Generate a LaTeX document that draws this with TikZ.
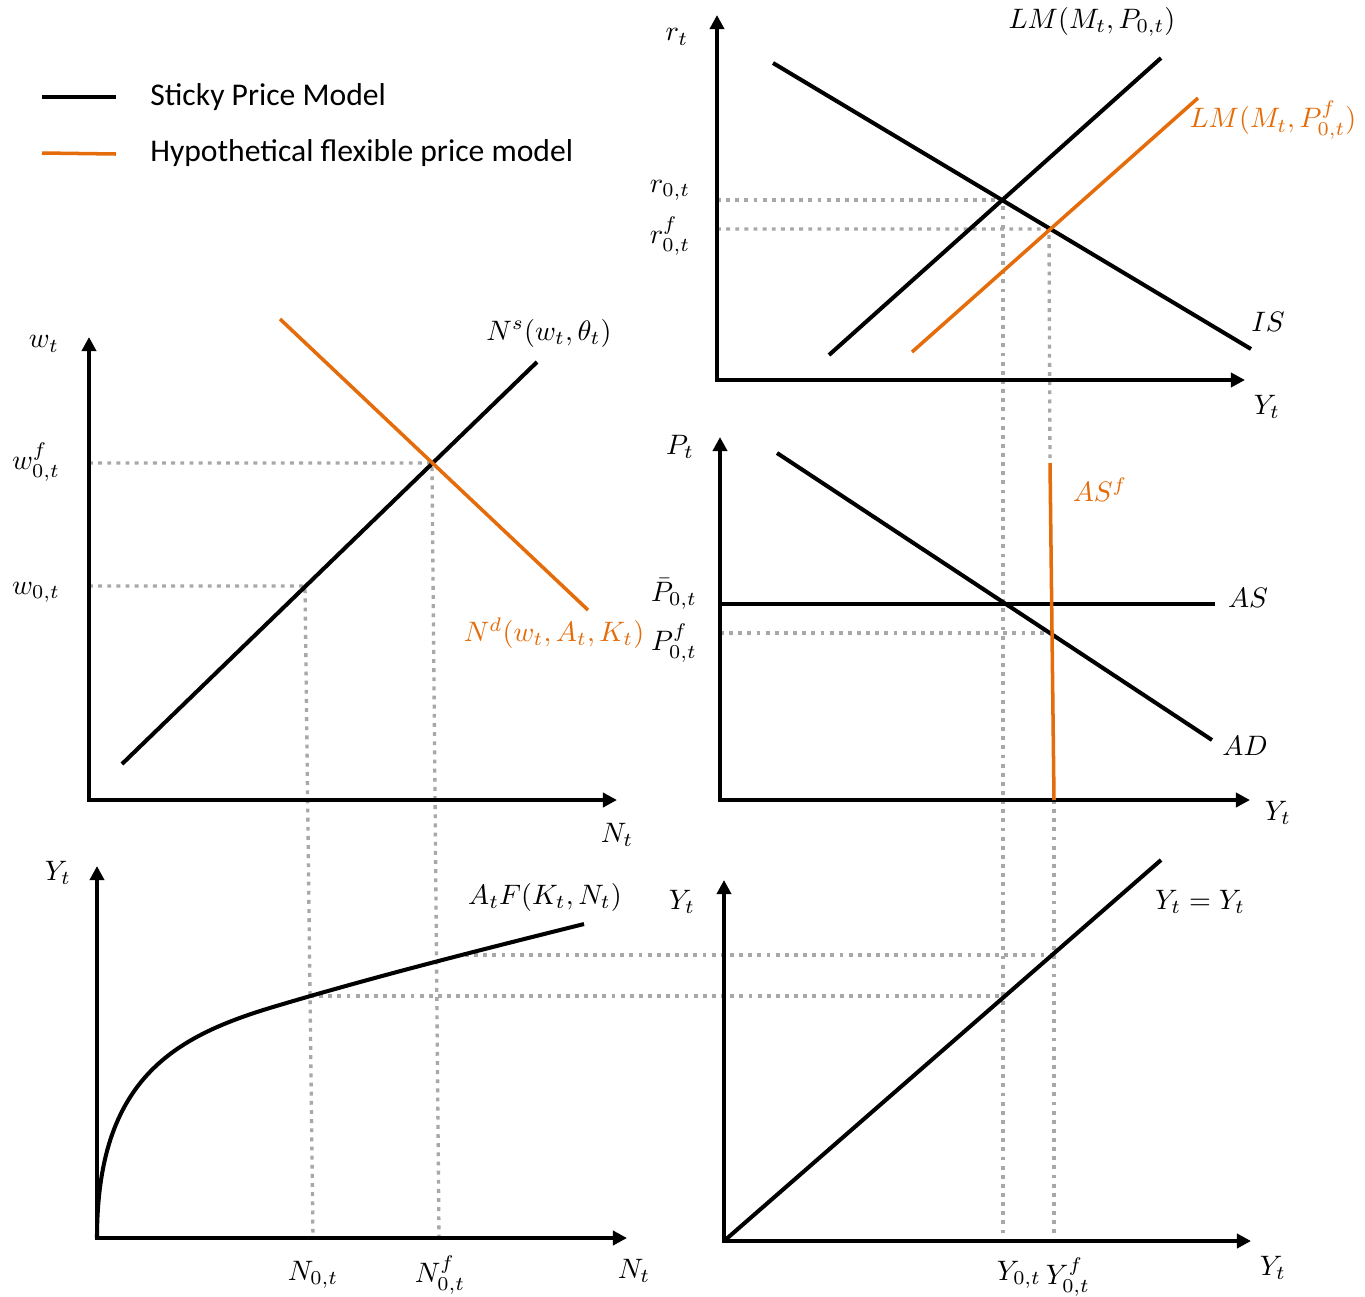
\documentclass[tikz,border=0pt]{standalone}
\usepackage{fontspec}
\newfontfamily\legendfont{Carlito}
\usepackage{tikz}
\usetikzlibrary{arrows.meta}
\definecolor{flexorange}{HTML}{E46C0A}
\definecolor{guidegray}{HTML}{A8A8A8}
\tikzset{
  axis/.style={line width=2.3pt, {Triangle[length=8pt,width=8pt]}-{Triangle[length=8pt,width=8pt]}},
  sticky/.style={line width=2.3pt},
  flex/.style={line width=2pt, flexorange},
  guide/.style={line width=1.9pt, guidegray, dash pattern=on 2.2pt off 3pt},
  lbl/.style={scale=1.6, inner sep=0pt},
  flexlbl/.style={lbl, text=flexorange},
  legend/.style={font=\legendfont\fontsize{18}{22}\selectfont, anchor=west, inner sep=0pt},
}

\begin{document}
\begin{tikzpicture}[x=0.02cm, y=-0.02cm]
 \useasboundingbox (0,0) rectangle (1365,1296);

 % legend
 \coordinate (LS1) at (42,97);
 \coordinate (LS2) at (116,97);
 \coordinate (LF1) at (42,153);
 \coordinate (LF2) at (116,154);
 \node[legend] (LegS) at (150,97) {Sticky Price Model};
 \node[legend] (LegF) at (150,153) {Hypothetical flexible price model};
 \draw[sticky] (LS1) -- (LS2);
 \draw[flex] (LF1) -- (LF2);

 % IS-LM
 \coordinate (rO) at (717,380);
 \coordinate (rY) at (717,15);
 \coordinate (rX) at (1245,380);
 \coordinate (IS1) at (773,63);
 \coordinate (IS2) at (1251,349);
 \coordinate (LM1) at (829,355);
 \coordinate (LM2) at (1161,58);
 \coordinate (LMf1) at (912,352);
 \coordinate (LMf2) at (1198,98);
 \coordinate (E0) at (1003,200);
 \coordinate (Ef) at (1049,229);
 \coordinate (r0) at (717,200);
 \coordinate (rf) at (717,229);

 % AS-AD
 \coordinate (pO) at (720,800);
 \coordinate (pY) at (720,437);
 \coordinate (pX) at (1250,800);
 \coordinate (AD1) at (777,453);
 \coordinate (AD2) at (1212,740);
 \coordinate (AS1) at (720,604);
 \coordinate (AS2) at (1215,604);
 \coordinate (ASf1) at (1050,463);
 \coordinate (ASf2) at (1054,800);
 \coordinate (pf) at (720,633);
 \coordinate (pfE) at (1051,633);

 % labour market
 \coordinate (wO) at (89,800);
 \coordinate (wY) at (89,337);
 \coordinate (wX) at (617,800);
 \coordinate (Ns1) at (122,764);
 \coordinate (Ns2) at (537,362);
 \coordinate (Nd1) at (280,319);
 \coordinate (Nd2) at (588,610);
 \coordinate (Wf) at (432,463);
 \coordinate (W0) at (305,586);
 \coordinate (wf) at (89,463);
 \coordinate (w0) at (89,586);

 % production
 \coordinate (yO) at (97,1238);
 \coordinate (yY) at (97,866);
 \coordinate (yX) at (627,1238);
 \coordinate (Fk) at (273,1007);
 \coordinate (Fend) at (584,924);
 \coordinate (N0b) at (313,1238);
 \coordinate (Nfb) at (439,1238);
 \coordinate (F0) at (310,996);
 \coordinate (Ff) at (465,955);

 % 45 degree line
 \coordinate (zO) at (724,1241);
 \coordinate (zY) at (724,880);
 \coordinate (zX) at (1251,1241);
 \coordinate (Deg) at (1161,860);
 \coordinate (Z0) at (1003,996);
 \coordinate (Zf) at (1050,955);
 \coordinate (Y0b) at (1003,1241);
 \coordinate (Yfb) at (1054,1241);

 \draw[guide] (r0) -- (E0) -- (Y0b);
 \draw[guide] (rf) -- (Ef) -- (ASf1);
 \draw[guide] (pf) -- (pfE);
 \draw[guide] (ASf2) -- (Yfb);
 \draw[guide] (wf) -- (Wf) -- (Nfb);
 \draw[guide] (w0) -- (W0) -- (N0b);
 \draw[guide] (F0) -- (Z0);
 \draw[guide] (Ff) -- (Zf);

 \draw[axis] (rY) -- (rO) -- (rX);
 \draw[axis] (pY) -- (pO) -- (pX);
 \draw[axis] (wY) -- (wO) -- (wX);
 \draw[axis] (yY) -- (yO) -- (yX);
 \draw[axis] (zY) -- (zO) -- (zX);

 \draw[sticky] (IS1) -- (IS2);
 \draw[sticky] (LM1) -- (LM2);
 \draw[flex] (LMf1) -- (LMf2);
 \draw[sticky] (AD1) -- (AD2);
 \draw[sticky] (AS1) -- (AS2);
 \draw[flex] (ASf1) -- (ASf2);
 \draw[sticky] (Ns1) -- (Ns2);
 \draw[flex] (Nd1) -- (Nd2);
 \draw[sticky] (yO) .. controls (97,1080) and (173,1037) .. (Fk)
   .. controls (373,977) and (480,950) .. (Fend);
 \draw[sticky] (zO) -- (Deg);

 \node[lbl] (Lrt) at (677,37) {$r_t$};
 \node[lbl] (Llm) at (1092,22) {$LM(M_t,P_{0,t})$};
 \node[flexlbl] (Llmf) at (1273,120) {$LM(M_t,P^f_{0,t})$};
 \node[lbl] (Lr0) at (670,190) {$r_{0,t}$};
 \node[lbl] (Lrf) at (670,236) {$r^f_{0,t}$};
 \node[lbl] (Lis) at (1268,322) {$IS$};
 \node[lbl] (Ly1) at (1267,407) {$Y_t$};
 \node[lbl] (Lpt) at (680,447) {$P_t$};
 \node[flexlbl] (Lasf) at (1100,490) {$AS^f$};
 \node[lbl] (Lpbar) at (674,594) {$\bar{P}_{0,t}$};
 \node[lbl] (Las) at (1248,598) {$AS$};
 \node[lbl] (Lpf) at (674,643) {$P^f_{0,t}$};
 \node[lbl] (Lad) at (1245,746) {$AD$};
 \node[lbl] (Ly2) at (1278,813) {$Y_t$};
 \node[lbl] (Lwt) at (44,344) {$w_t$};
 \node[lbl] (Lns) at (549,333) {$N^s(w_t,\theta_t)$};
 \node[lbl] (Lwf) at (36,462) {$w^f_{0,t}$};
 \node[lbl] (Lw0) at (36,592) {$w_{0,t}$};
 \node[flexlbl] (Lnd) at (554,633) {$N^d(w_t,A_t,K_t)$};
 \node[lbl] (Lnt1) at (617,835) {$N_t$};
 \node[lbl] (Ly3) at (58,873) {$Y_t$};
 \node[lbl] (Lprod) at (545,897) {$A_tF(K_t,N_t)$};
 \node[lbl] (Ln0) at (313,1275) {$N_{0,t}$};
 \node[lbl] (Lnf) at (440,1275) {$N^f_{0,t}$};
 \node[lbl] (Lnt2) at (634,1271) {$N_t$};
 \node[lbl] (Ly4) at (682,902) {$Y_t$};
 \node[lbl] (Ldeg) at (1200,902) {$Y_t = Y_t$};
 \node[lbl] (Ly0) at (1019,1275) {$Y_{0,t}$};
 \node[lbl] (Lyf) at (1068,1277) {$Y^f_{0,t}$};
 \node[lbl] (Ly5) at (1273,1268) {$Y_t$};
\end{tikzpicture}
\end{document}
